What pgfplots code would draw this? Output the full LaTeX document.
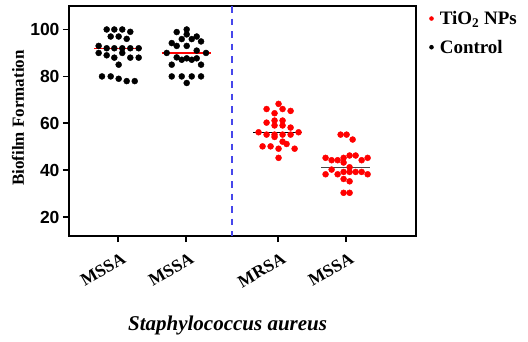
\documentclass[border=0pt]{standalone}
\usepackage{fontspec}
\setmainfont{Liberation Serif}
\newfontfamily\arialfont{Liberation Sans}
\usepackage{pgfplots}
\pgfplotsset{compat=1.18}
\definecolor{dashblue}{RGB}{70,70,235}
\definecolor{medgray}{RGB}{70,70,70}
\begin{document}
\begin{tikzpicture}
\useasboundingbox (-69bp,-106bp) rectangle (459bp,236bp);
\begin{axis}[
  scale only axis,
  width=347bp, height=230bp,
  xmin=0.28, xmax=5.38, ymin=12, ymax=110,
  axis line style={line width=1.8bp},
  xtick={1,2,3.35,4.35},
  xticklabels={MSSA,MSSA,MRSA,MSSA},
  ytick={20,40,60,80,100},
  yticklabels={20,40,60,80,100},
  xtick pos=bottom, ytick pos=left,
  tick align=outside,
  major tick length=6bp,
  every tick/.style={black, line width=1.8bp},
  /pgf/number format/assume math mode=true,
  yticklabel style={font=\arialfont\bfseries\fontsize{17.5bp}{19bp}\selectfont},
  xticklabel style={font=\bfseries\fontsize{17.5bp}{19bp}\selectfont, rotate=30, anchor=north east, yshift=-7bp, xshift=1bp},
  ylabel={Biofilm Formation},
  every axis y label/.style={at={(axis description cs:-0.147,0.513)}, rotate=90, anchor=center, font=\bfseries\fontsize{17bp}{19bp}\selectfont},
  xlabel={Staphylococcus aureus},
  every axis x label/.style={at={(axis description cs:0.457,-0.41)}, anchor=base, font=\bfseries\itshape\fontsize{21bp}{23bp}\selectfont},
  legend cell align=left,
  legend image code/.code={\fill[#1,draw=none] (0bp,0bp) circle (2.3bp);},
  legend style={at={(axis description cs:1,1)}, anchor=north west, xshift=13bp, yshift=-3bp, draw=none, fill=none, font=\bfseries\fontsize{19bp}{21bp}\selectfont, row sep=10bp, inner sep=0pt, /tikz/every odd column/.style={column sep=4bp}},
]
\addlegendimage{red}
\addlegendentry{TiO\textsubscript{2} NPs}
\addlegendimage{black}
\addlegendentry{Control}

% dashed separator
\addplot[dashblue, line width=2.2bp, dash pattern=on 6.5bp off 6bp, forget plot] coordinates {(2.68,110) (2.68,12)};

% medians
\addplot[red, line width=1.4bp, forget plot] coordinates {(0.65,92) (1.36,92)};
\addplot[red, line width=1.4bp, forget plot] coordinates {(1.64,90) (2.36,90)};
\addplot[black, line width=1.4bp, forget plot] coordinates {(2.99,56.2) (3.71,56.2)};
\addplot[medgray, line width=1.4bp, forget plot] coordinates {(3.99,41.3) (4.71,41.3)};

% Control MSSA 1
\addplot[only marks, mark=*, mark size=3bp, black, forget plot] coordinates {
(0.834,100) (0.946,100) (1.063,100) (1.181,99)
(0.893,97) (1.010,97) (1.128,96)
(0.716,93)
(0.834,92) (0.946,92) (1.063,92) (1.181,92) (1.304,92)
(0.716,90) (1.063,90)
(0.834,89)
(0.946,88) (1.181,88) (1.304,88)
(1.010,85)
(0.765,80) (0.893,80)
(1.010,79)
(1.128,78) (1.246,78)
};
% Control MSSA 2
\addplot[only marks, mark=*, mark size=3bp, black, forget plot] coordinates {
(2.010,100)
(1.863,98.9)
(2.010,97.9)
(2.157,97)
(1.937,95.9) (2.084,95.9)
(2.221,94.9)
(1.790,94.2)
(1.863,93) (2.010,93)
(2.157,91)
(1.716,90) (2.294,90)
(1.863,88.1)
(1.937,87.1) (2.084,87.1)
(2.010,87.7) (2.157,87.7)
(1.790,85) (2.221,85)
(1.790,80) (1.937,80) (2.084,80) (2.221,80)
(2.010,77.2)
};
% TiO2 MRSA
\addplot[only marks, mark=*, mark size=3bp, red, forget plot] coordinates {
(3.360,68.3)
(3.184,66.1) (3.419,66.1)
(3.537,65.3)
(3.301,64.3)
(3.184,60.3) (3.301,61.2) (3.419,61.2)
(3.301,59.1) (3.419,59.1)
(3.537,58.2)
(3.066,56.2) (3.654,56.2)
(3.184,55.2) (3.301,55.2) (3.301,54.2) (3.419,55.2) (3.537,55.2)
(3.419,52.2) (3.478,51.2)
(3.125,50.2) (3.243,50.2)
(3.360,49.2) (3.596,49.2)
(3.360,45.3)
};
% TiO2 MSSA
\addplot[only marks, mark=*, mark size=3bp, red, forget plot] coordinates {
(4.272,55.2) (4.360,55.2)
(4.449,53.1)
(4.051,45.3)
(4.140,44.3) (4.228,44.3)
(4.316,45.3) (4.316,43.3)
(4.404,46.3) (4.493,46.3)
(4.581,44.3)
(4.669,45.3)
(4.140,40.3)
(4.404,41.3)
(4.051,38.3) (4.228,38.3)
(4.316,39.3) (4.404,39.3) (4.493,39.3) (4.581,39.3)
(4.669,38.3)
(4.316,36.3)
(4.404,35.3)
(4.316,30.4) (4.404,30.4)
};
\end{axis}
\end{tikzpicture}
\end{document}
